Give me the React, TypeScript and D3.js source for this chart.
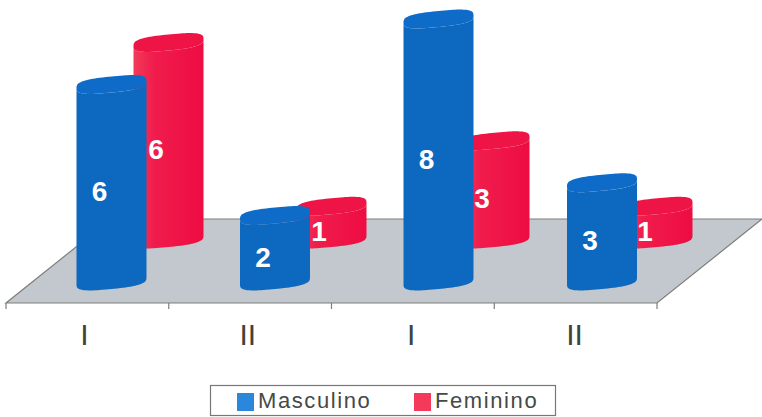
import React from "react";
import * as d3 from "d3";

const categories = ["I", "II", "I", "II"];
const tickKeys = [0, 1, 2, 3];
const masculino = [6, 2, 8, 3];
const feminino = [6, 1, 3, 1];
const legendItems = ["Masculino", "Feminino"];

const WIDTH = 762;
const HEIGHT = 417;
const FONT = "'Liberation Sans', Arial, sans-serif";
const RX = 35;
const RY = 8;
const SKEW = 0.1;
const ROUNDNESS = 3;

const xBand = d3.scaleBand<number>().domain(tickKeys).range([6, 657]);
const blueScale = d3.scalePoint<number>().domain(tickKeys).range([111.5, 602]);
const redScale = d3.scalePoint<number>().domain(tickKeys).range([168.5, 657.5]);
const labelScale = d3.scalePoint<number>().domain(tickKeys).range([84.5, 574.5]);
const heightScale = d3.scaleLinear().domain([0, 8]).range([0, 262]);
const floorFrontY = 303;
const floorBackY = 219;
const floorDepth = 105;

// Point on a skewed superellipse; t = 0 is the right end, t = PI the left end, and
// angles between PI and 2PI run along the upper edge.
function rimPoint(cx: number, cy: number, t: number): [number, number] {
  const c = Math.cos(t);
  const s = Math.sin(t);
  const ux = Math.sign(c) * Math.pow(Math.abs(c), 2 / ROUNDNESS);
  const uy = Math.sign(s) * Math.pow(Math.abs(s), 2 / ROUNDNESS);
  return [cx + RX * ux, cy + RY * uy - SKEW * RX * ux];
}

const rimAngles = d3.range(0, 2 * Math.PI + 0.001, Math.PI / 48);
const rimLine = d3.line();

function capPath(cx: number, cy: number) {
  return `${rimLine(rimAngles.map((t) => rimPoint(cx, cy, t)))}Z`;
}

// Side wall: the front half of the base rim joined to the front half of the top rim.
function bodyPath(cx: number, topY: number, baseY: number) {
  const front = rimAngles.filter((t) => t <= Math.PI + 0.001);
  const base = front.map((t) => rimPoint(cx, baseY, t));
  const top = front.map((t) => rimPoint(cx, topY, t)).reverse();
  return `${rimLine([...base, ...top])}Z`;
}

type CylinderProps = { cx: number; baseY: number; value: number; fill: string; cap: string };

function Cylinder({ cx, baseY, value, fill, cap }: CylinderProps) {
  const topY = baseY - heightScale(value);
  return (
    <g>
      <path d={bodyPath(cx, topY, baseY)} fill={fill} />
      <path d={capPath(cx, topY)} fill={cap} />
    </g>
  );
}

function ValueLabel({ x, y, value }: { x: number; y: number; value: number }) {
  return (
    <text x={x} y={y} fill="#fff" fontFamily={FONT} fontWeight="bold" fontSize={28} textAnchor="middle" dominantBaseline="central">
      {value}
    </text>
  );
}

export default function App() {
  const blueBase = 281;
  const redBase = 239;
  const blueX = (i: number) => blueScale(i)!;
  const redX = (i: number) => redScale(i)!;
  const floor = [
    [xBand.range()[0], floorFrontY],
    [xBand.range()[1], floorFrontY],
    [xBand.range()[1] + floorDepth, floorBackY],
    [xBand.range()[0] + floorDepth, floorBackY],
  ] as [number, number][];
  const ticks = [...tickKeys.map((k) => xBand(k)!), xBand.range()[1]];

  return (
    <svg width={WIDTH} height={HEIGHT} style={{ position: "absolute", left: 0, top: 0, background: "#fff" }}>
      <defs>
        <linearGradient id="redBody" x1="0" x2="1" y1="0" y2="0">
          <stop offset="0" stopColor="#f23a58" />
          <stop offset="0.3" stopColor="#f01c4c" />
          <stop offset="1" stopColor="#ee0c42" />
        </linearGradient>
      </defs>

      <path d={`${d3.line()(floor)}Z`} fill="#c2c8cd" stroke="#7d7f7c" strokeWidth={1.2} />
      {ticks.map((t) => (
        <line key={t} x1={t} x2={t} y1={floorFrontY} y2={309} stroke="#7d7f7c" strokeWidth={1.2} />
      ))}

      {tickKeys.map((k) => (
        <g key={k}>
          <Cylinder cx={redX(k)} baseY={redBase} value={feminino[k]} fill="url(#redBody)" cap="#ee1446" />
          <Cylinder cx={blueX(k)} baseY={blueBase} value={masculino[k]} fill="#0d69c0" cap="#0e6cc8" />
        </g>
      ))}

      {tickKeys.map((k) => (
        <g key={k}>
          <ValueLabel x={blueX(k) - 12} y={(2 * blueBase - heightScale(masculino[k])) / 2 + 9} value={masculino[k]} />
          <ValueLabel x={redX(k) - 12.5} y={(2 * redBase - heightScale(feminino[k])) / 2 + 9} value={feminino[k]} />
        </g>
      ))}

      {categories.map((c, i) => (
        <text key={i} x={labelScale(i)!} y={345} fontFamily={FONT} fontSize={30} fill="#3c4440" textAnchor="middle">
          {c}
        </text>
      ))}

      <rect x={210.5} y={385.5} width={345} height={30} fill="#fff" stroke="#777" strokeWidth={1.2} />
      {legendItems.map((name, i) => {
        const sx = i === 0 ? 237 : 414;
        return (
          <g key={name}>
            <rect x={sx} y={393} width={17} height={18} fill={i === 0 ? "#2b86dc" : "#f4395a"} />
            <text x={sx + 21} y={408} fontFamily={FONT} fontSize={22} letterSpacing={1.6} fill="#444a46">
              {name}
            </text>
          </g>
        );
      })}
    </svg>
  );
}
